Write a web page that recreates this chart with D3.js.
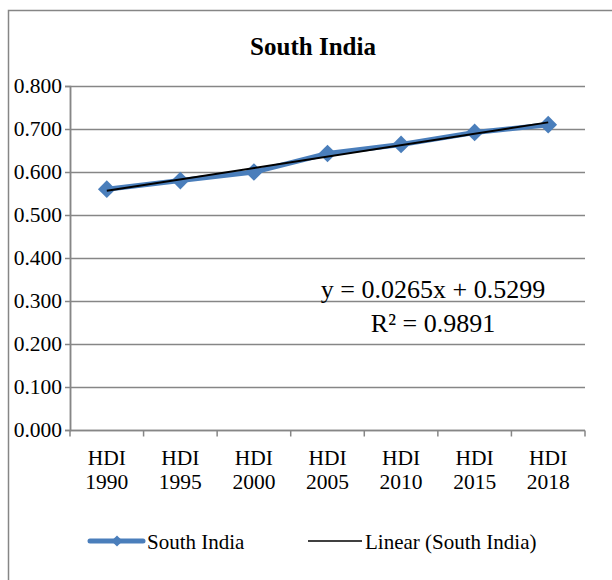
<!DOCTYPE html>
<html>
<head>
<meta charset="utf-8">
<script src="https://cdnjs.cloudflare.com/ajax/libs/d3/7.8.5/d3.min.js"></script>
<style>
  html, body { margin: 0; padding: 0; background: #fff; }
  svg { display: block; }
  text { font-family: 'Liberation Serif', 'Times New Roman', serif; fill: #000; }
</style>
</head>
<body>
<script>
// HDI values for South India
const categories = ["HDI 1990", "HDI 1995", "HDI 2000", "HDI 2005", "HDI 2010", "HDI 2015", "HDI 2018"];
const hdiValues = [0.560, 0.580, 0.600, 0.643, 0.664, 0.692, 0.710];
const yTicks = [0, 0.1, 0.2, 0.3, 0.4, 0.5, 0.6, 0.7, 0.8];
// Linear trendline coefficients (x = 1..n)
const trendSlope = 0.0265;
const trendIntercept = 0.5299;
const trendR2 = 0.9891;

const W = 612, H = 580;
const margin = { left: 70, right: 27, top: 86, bottom: 150 };
const blue = "#4a7ebb";
const gridColor = "#868686";
const labelSize = 21.5;

const svg = d3.select("body").append("svg").attr("width", W).attr("height", H);

// chart frame
svg.append("rect")
  .attr("x", 8.5).attr("y", 10.5)
  .attr("width", 700).attr("height", 700)
  .attr("fill", "none").attr("stroke", gridColor).attr("stroke-width", 1.5);

const x = d3.scaleBand().domain(categories).range([margin.left, W - margin.right]);
const y = d3.scaleLinear().domain([0, 0.8]).range([H - margin.bottom, margin.top]);

// horizontal gridlines
svg.append("g").selectAll("line").data(yTicks).join("line")
  .attr("x1", margin.left).attr("x2", W - margin.right)
  .attr("y1", d => Math.round(y(d)) + 0.5).attr("y2", d => Math.round(y(d)) + 0.5)
  .attr("stroke", gridColor).attr("stroke-width", 1.5);

// y axis
const yAxis = d3.axisLeft(y).tickValues(yTicks).tickFormat(d3.format(".3f")).tickSize(5).tickPadding(3);
const gy = svg.append("g").attr("transform", `translate(${margin.left},0)`).call(yAxis)
  .attr("font-family", null).attr("font-size", null);
gy.select(".domain").attr("stroke", gridColor).attr("stroke-width", 1.5);
gy.selectAll(".tick line").attr("stroke", gridColor).attr("stroke-width", 1.5);
gy.selectAll(".tick text").attr("font-size", labelSize).attr("fill", "#000");

// x axis with tick marks at category boundaries
const xBase = Math.round(y(0)) + 0.5;
svg.append("line")
  .attr("x1", margin.left).attr("x2", W - margin.right)
  .attr("y1", xBase).attr("y2", xBase)
  .attr("stroke", gridColor).attr("stroke-width", 1.5);
const bounds = categories.map(c => x(c)).concat([x.range()[1]]);
svg.append("g").selectAll("line").data(bounds).join("line")
  .attr("x1", d => d).attr("x2", d => d)
  .attr("y1", xBase).attr("y2", xBase + 6)
  .attr("stroke", gridColor).attr("stroke-width", 1.5);
svg.append("line")
  .attr("x1", margin.left + 0.5).attr("x2", margin.left + 0.5)
  .attr("y1", margin.top).attr("y2", xBase)
  .attr("stroke", gridColor).attr("stroke-width", 1.5);

const xl = svg.append("g").selectAll("text").data(categories).join("text")
  .attr("font-size", labelSize).attr("text-anchor", "middle");
xl.append("tspan").attr("x", d => x(d) + x.bandwidth() / 2).attr("y", 465).text(d => d.split(" ")[0]);
xl.append("tspan").attr("x", d => x(d) + x.bandwidth() / 2).attr("y", 489).text(d => d.split(" ")[1]);

const cx = i => x(categories[i]) + x.bandwidth() / 2;

// data series
const line = d3.line().x((d, i) => cx(i)).y(d => y(d));
svg.append("path").datum(hdiValues)
  .attr("d", line).attr("fill", "none")
  .attr("stroke", blue).attr("stroke-width", 5).attr("stroke-linejoin", "round");

const diamond = d3.symbol().type(d3.symbolDiamond2).size(200);
svg.append("g").selectAll("path").data(hdiValues).join("path")
  .attr("d", diamond)
  .attr("transform", (d, i) => `translate(${cx(i)},${y(d)})`)
  .attr("fill", blue);

// trendline from the fitted coefficients
const kFirst = 1, kLast = categories.length;
svg.append("line")
  .attr("x1", cx(kFirst - 1)).attr("y1", y(trendIntercept + trendSlope * kFirst))
  .attr("x2", cx(kLast - 1)).attr("y2", y(trendIntercept + trendSlope * kLast))
  .attr("stroke", "#000").attr("stroke-width", 2);

// title
svg.append("text").attr("x", 313).attr("y", 55)
  .attr("font-size", 25).attr("font-weight", "bold")
  .attr("text-anchor", "middle").text("South India");

// equation
svg.append("text").attr("x", 433).attr("y", 298)
  .attr("font-size", 26).attr("text-anchor", "middle")
  .text(`y = ${trendSlope}x + ${trendIntercept}`);
svg.append("text").attr("x", 433).attr("y", 332)
  .attr("font-size", 26).attr("text-anchor", "middle")
  .text(`R² = ${trendR2}`);

// legend
const ly = 541;
svg.append("line").attr("x1", 90).attr("x2", 143).attr("y1", ly).attr("y2", ly)
  .attr("stroke", blue).attr("stroke-width", 5).attr("stroke-linecap", "round");
svg.append("path").attr("d", d3.symbol().type(d3.symbolDiamond2).size(80))
  .attr("transform", `translate(117,${ly})`).attr("fill", blue);
svg.append("text").attr("x", 147).attr("y", 549)
  .attr("font-size", 21).text("South India");
svg.append("line").attr("x1", 308).attr("x2", 362).attr("y1", ly).attr("y2", ly)
  .attr("stroke", "#000").attr("stroke-width", 1.5);
svg.append("text").attr("x", 365).attr("y", 549)
  .attr("font-size", 21).text("Linear (South India)");
</script>
</body>
</html>
